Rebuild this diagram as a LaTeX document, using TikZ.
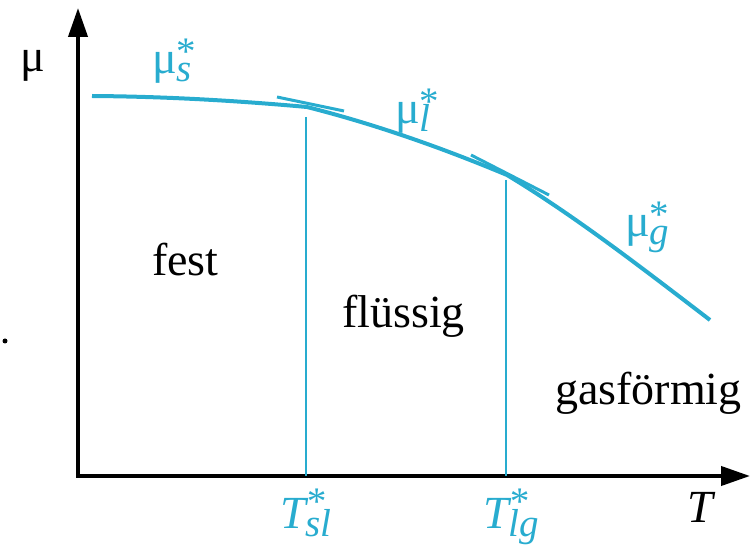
\documentclass[tikz,border=0pt]{standalone}
\usepackage{fontspec}
\setmainfont{Liberation Serif}
\usetikzlibrary{arrows.meta}

\definecolor{phase}{RGB}{40,172,207}
\newcommand\bigsz{\fontsize{46}{50}\selectfont}
\newcommand\subsz{\fontsize{39}{42}\selectfont}
% symbol with star on top and italic index below
\newcommand\phsym[3][0pt]{#2\rlap{\raisebox{#1}{\subsz *}}\raisebox{-8pt}{\subsz\itshape #3}}

\begin{document}
\begin{tikzpicture}[x=1pt,y=-1pt,
  axis/.style={line width=4pt,{Triangle[length=29pt,width=19pt]}-{Triangle[length=29pt,width=19pt]}},
  chem/.style={phase,line width=4pt},
  tangent/.style={phase,line width=3pt},
  drop/.style={phase,line width=2pt},
  lbl/.style={inner sep=0pt,anchor=base west,font=\bigsz},
  plbl/.style={lbl,text=phase}
]
  \useasboundingbox (0,0) rectangle (753,545);

  % axes
  \coordinate (O) at (78,476);
  \coordinate (ytip) at (78,8);
  \coordinate (xtip) at (750,476);
  \draw[axis] (ytip) -- (O) -- (xtip);
  \node[lbl] (mu) at (20,72) {μ};
  \node[lbl,font=\bigsz\itshape] (T) at (687,522) {T};
  \node[circle,fill,inner sep=0pt,minimum size=5pt] (dot) at (5,341) {};

  % chemical potential curve
  \coordinate (start) at (92,96);
  \coordinate (sl) at (307,107);
  \coordinate (lg) at (507,175);
  \coordinate (stop) at (710,320);
  \draw[chem] (start) .. controls (164,96.5) and (235,100.5) .. (sl)
    .. controls (374,124) and (440,147) .. (lg)
    .. controls (575,216) and (642,268) .. (stop);

  % tangents at the crossings
  \coordinate (t1a) at (277,97);
  \coordinate (t1b) at (344,111);
  \coordinate (t2a) at (471,155);
  \coordinate (t2b) at (549,195);
  \draw[tangent] (t1a) -- (t1b);
  \draw[tangent] (t2a) -- (t2b);

  % transition temperatures
  \coordinate (sltop) at (306,117);
  \coordinate (slfoot) at (306,476);
  \coordinate (lgtop) at (506,180);
  \coordinate (lgfoot) at (506,476);
  \draw[drop] (sltop) -- (slfoot);
  \draw[drop] (lgtop) -- (lgfoot);

  \node[plbl] (Tsl) at (280,528) {\itshape\phsym[14pt]{T}{sl}};
  \node[plbl] (Tlg) at (483,528) {\itshape\phsym[14pt]{T}{lg}};

  % phase labels
  \node[plbl] (mus) at (152,74) {\phsym[9pt]{μ}{s}};
  \node[plbl] (mul) at (395,124) {\phsym[9pt]{μ}{l}};
  \node[plbl] (mug) at (625,237) {\phsym[9pt]{μ}{g}};

  \node[lbl] (fest) at (152,276) {fest};
  \node[lbl] (fluessig) at (342,328) {flüssig};
  \node[lbl] (gas) at (555,405) {gasförmig};
\end{tikzpicture}
\end{document}
